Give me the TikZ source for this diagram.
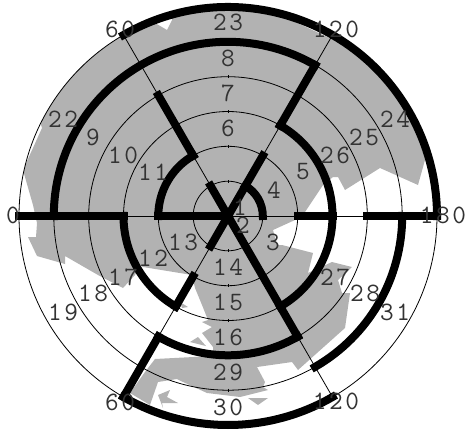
\documentclass[tikz,border=0pt]{standalone}
\usepackage{fontspec}
\newfontfamily\ringfont[LetterSpace=10]{Latin Modern Mono}
\definecolor{landgray}{gray}{0.7}
\tikzset{
  thinline/.style={line width=0.8pt, black},
  thickline/.style={line width=8pt, black, line cap=rect},
  ringlabel/.style={font=\ringfont\fontsize{26.5}{28}\selectfont, text=black!80, inner sep=0pt}
}
\begin{document}
\begin{tikzpicture}[x=1pt, y=-1pt]
  \useasboundingbox (0,0) rectangle (466,431);
  \coordinate (c) at (228,216);
  % land, cut at the outer ring
  \begin{scope}
    \clip (c) circle (209pt);
    \fill[landgray] (42,128) -- (23,170) -- (33,205) -- (37,223) -- (36,237) -- (28,237) -- (37,256) -- (65,264) -- (65,256)
      -- (98,275) -- (123,288) -- (135,275) -- (140,265) -- (143,267) -- (192,275) -- (195,288) -- (202,305) -- (208,320)
      -- (202,322) -- (212,327) -- (202,333) -- (213,347) -- (213,356) -- (155,359) -- (145,372) -- (130,393) -- (150,405)
      -- (158,382) -- (177,379) -- (183,382) -- (207,393) -- (240,397) -- (268,390) -- (263,387) -- (265,382) -- (257,367)
      -- (292,362) -- (298,370) -- (345,328) -- (350,293) -- (342,293) -- (338,280) -- (352,267) -- (332,262) -- (308,273)
      -- (313,253) -- (282,245) -- (277,245) -- (273,230) -- (295,220) -- (305,212) -- (323,185) -- (333,177) -- (338,177)
      -- (345,190) -- (380,168) -- (418,185) -- (425,160) -- (460,100) -- (228,-10) -- (172,10) -- (172,20) -- (167,30)
      -- (155,23) -- (150,0) -- (20,60) -- cycle;
    \fill[landgray] (180,302) -- (188,307) -- (182,308) -- cycle;
    \fill[landgray] (190,342) -- (198,337) -- (206,346) -- cycle;
    \fill[landgray] (158,395) -- (170,390) -- (167,397) -- (178,403) -- (162,403) -- (163,408) -- cycle;
    \fill[landgray] (248,398) -- (268,398) -- (258,405) -- cycle;
  \end{scope}
  % rings and spokes, angles counted the usual way round
  \begin{scope}[shift={(c)}, yscale=-1]
    \foreach \r in {34.8,69.7,104.5,139.3,174.2,209} {
      \draw[thinline] (0,0) circle (\r);
      \draw[thinline] (90:\r-1.5) -- (90:\r+1.5);
      \draw[thinline] (270:\r-1.5) -- (270:\r+1.5);
    }
    \foreach \a in {0,60,120} \draw[thinline] (\a:209) -- (\a+180:209);
    % outer ring
    \draw[thickline] (120:209) arc[start angle=120, end angle=0, radius=209];
    \draw[thickline] (240:209) arc[start angle=240, end angle=300, radius=209];
    % inner rings
    \draw[thickline] (180:174.2) arc[start angle=180, end angle=60, radius=174.2];
    \draw[thickline] (300:174.2) arc[start angle=300, end angle=360, radius=174.2];
    \draw[thickline] (240:139.3) arc[start angle=240, end angle=300, radius=139.3];
    \draw[thickline] (60:104.5) arc[start angle=60, end angle=0, radius=104.5];
    \draw[thickline] (180:104.5) arc[start angle=180, end angle=240, radius=104.5];
    \draw[thickline] (300:104.5) arc[start angle=300, end angle=360, radius=104.5];
    \draw[thickline] (180:69.7) arc[start angle=180, end angle=120, radius=69.7];
    \draw[thickline] (60:34.8) arc[start angle=60, end angle=0, radius=34.8];
    % walls along the spokes
    \draw[thickline] (180:209) -- (180:104.5);
    \draw[thickline] (180:69.7) -- (0,0);
    \draw[thickline] (0:69.7) -- (0:104.5);
    \draw[thickline] (0:139.3) -- (0:209);
    \draw[thickline] (0,0) -- (60:69.7);
    \draw[thickline] (60:104.5) -- (60:174.2);
    \draw[thickline] (0,0) -- (120:34.8);
    \draw[thickline] (120:69.7) -- (120:139.3);
    \draw[thickline] (0,0) -- (240:34.8);
    \draw[thickline] (240:69.7) -- (240:104.5);
    \draw[thickline] (240:139.3) -- (240:209);
    \draw[thickline] (0,0) -- (300:139.3);
  \end{scope}
  \foreach \x/\y/\t [count=\n] in {
    228/22/23, 228/58/8, 228/93/7, 228/128/6, 240/207/1, 243/225/2, 273/242/3, 274/190/4, 303/172/5,
    335/155/26, 364/137/25, 395/119/24, 335/277/27, 365/293/28, 395/312/31, 63/119/22, 93/137/9,
    123/155/10, 153/172/11, 183/242/13, 153/258/12, 123/277/17, 93/293/18, 63/312/19, 228/267/14,
    228/302/15, 228/337/16, 228/372/29, 228/407/30, 443/215/180, 336/29/120, 120/29/60, 13/215/0,
    120/402/60, 336/401/120}
    \node[ringlabel] (lab\n) at (\x,\y) {\t};
\end{tikzpicture}
\end{document}
